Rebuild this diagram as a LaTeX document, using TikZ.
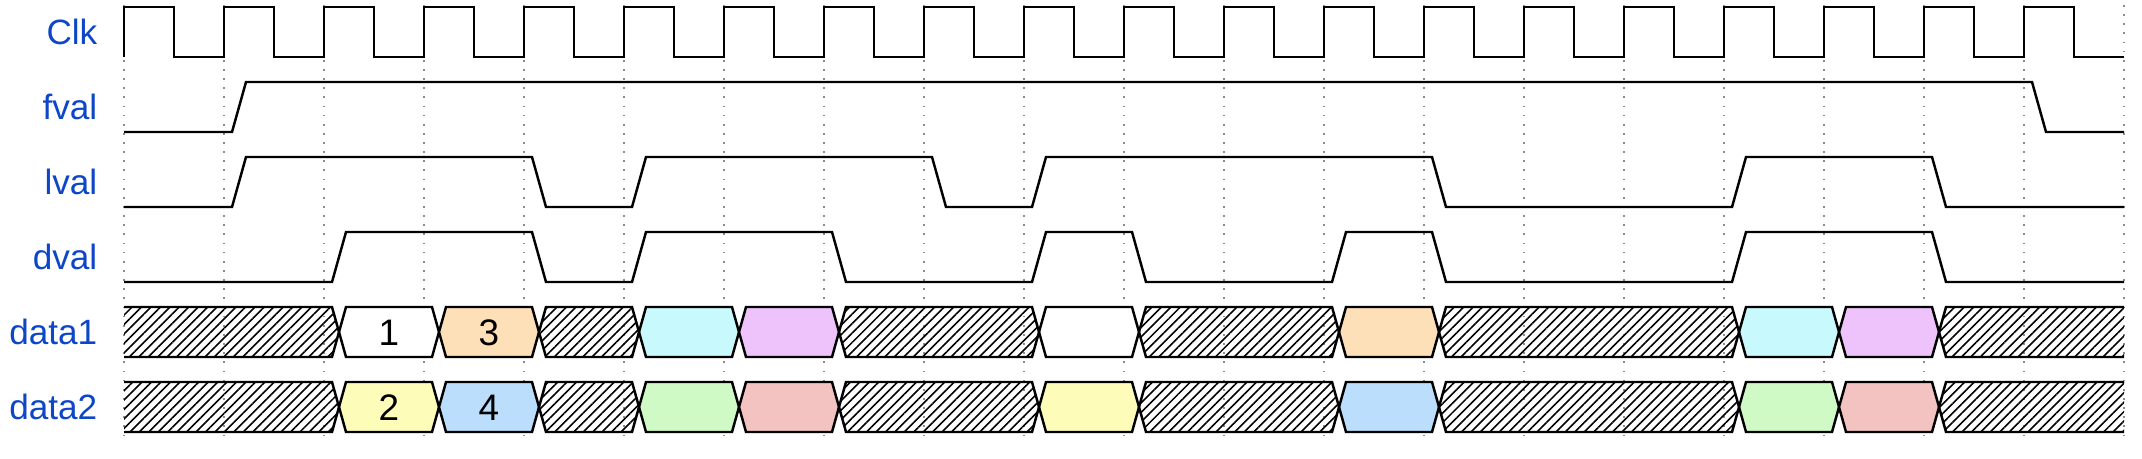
\documentclass[tikz,border=0pt]{standalone}
\usepackage{fontspec}
\setmainfont{Liberation Sans}
\usetikzlibrary{patterns.meta}

\definecolor{sigblue}{RGB}{14,70,200}
\definecolor{peach}{RGB}{253,223,184}
\definecolor{aqua}{RGB}{200,250,253}
\definecolor{lilac}{RGB}{238,194,250}
\definecolor{lemon}{RGB}{253,253,185}
\definecolor{sky}{RGB}{186,222,251}
\definecolor{mint}{RGB}{207,250,198}
\definecolor{rose}{RGB}{242,195,192}

% level signal: row top, clock edges where it toggles (starts low)
\newcommand\levelwave[2]{%
  \draw[sig] (1.24,{#1+0.5})
    foreach \k [count=\i, evaluate=\i as \ya using {mod(\i,2)==1 ? #1+0.5 : #1},
      evaluate=\i as \yb using {mod(\i,2)==1 ? #1 : #1+0.5}] in {#2}
      { -- ({1.32+\k},\ya) -- ({1.46+\k},\yb) }
    -- (21.24,{#1+0.5});}
% one bus value: row top, from edge, to edge, style
\newcommand\busseg[4]{%
  \draw[sig, #4] ({1.39+#2},{#1+0.25}) -- ({1.46+#2},#1) -- ({1.32+#3},#1)
    -- ({1.39+#3},{#1+0.25}) -- ({1.32+#3},{#1+0.5}) -- ({1.46+#2},{#1+0.5}) -- cycle;}
% open hatched ends of a bus row
\newcommand\busends[1]{%
  \fill[hatch] (1.24,#1) -- (3.32,#1) -- (3.39,{#1+0.25}) -- (3.32,{#1+0.5}) -- (1.24,{#1+0.5}) -- cycle;
  \draw[sig] (1.24,#1) -- (3.32,#1) -- (3.39,{#1+0.25}) -- (3.32,{#1+0.5}) -- (1.24,{#1+0.5});
  \fill[hatch] (21.24,#1) -- (19.46,#1) -- (19.39,{#1+0.25}) -- (19.46,{#1+0.5}) -- (21.24,{#1+0.5}) -- cycle;
  \draw[sig] (21.24,#1) -- (19.46,#1) -- (19.39,{#1+0.25}) -- (19.46,{#1+0.5}) -- (21.24,{#1+0.5});}

\begin{document}
\begin{tikzpicture}[
  x=1cm, y=-1cm,
  sig/.style={line width=0.7pt},
  grid/.style={black!45, line width=0.4pt, dash pattern=on 0.5pt off 2.1pt},
  lbl/.style={font=\fontsize{10}{12}\selectfont, text=sigblue, anchor=base east, inner sep=0pt},
  num/.style={font=\fontsize{10.5}{12}\selectfont, anchor=base, inner sep=0pt},
  hatch/.style={pattern={Lines[angle=45, distance=1.9pt, line width=0.45pt]}}
]
\useasboundingbox (0,0) rectangle (21.42,4.58);
% ---------------- grid and names ------------------------------------------
\foreach \k in {0,...,20}
  \draw[grid] ({1.24+\k},0.05) -- ({1.24+\k},4.38);
\foreach \n/\t [count=\r from 0] in {clk/Clk, fval/fval, lval/lval, dval/dval, dataA/data1, dataB/data2}
  \node[lbl] (\n) at (0.98,{0.445+0.75*\r}) {\t};
% ---------------- clock and strobes ---------------------------------------
\draw[sig] (1.24,0.57) foreach \k in {0,...,19}
  { -- ({1.24+\k},0.07) -- ({1.74+\k},0.07) -- ({1.74+\k},0.57) -- ({2.24+\k},0.57) };
\levelwave{0.82}{1,19}
\levelwave{1.57}{1,4,5,8,9,13,16,18}
\levelwave{2.32}{2,4,5,7,9,10,12,13,16,18}
% ---------------- data buses ----------------------------------------------
\foreach \a/\b/\c in {2/3/white, 3/4/peach, 5/6/aqua, 6/7/lilac, 9/10/white,
                      12/13/peach, 16/17/aqua, 17/18/lilac}
  \busseg{3.07}{\a}{\b}{fill=\c};
\foreach \a/\b/\c in {2/3/lemon, 3/4/sky, 5/6/mint, 6/7/rose, 9/10/lemon,
                      12/13/sky, 16/17/mint, 17/18/rose}
  \busseg{3.82}{\a}{\b}{fill=\c};
\foreach \y in {3.07,3.82}{
  \foreach \a/\b in {4/5, 7/9, 10/12, 13/16}
    \busseg{\y}{\a}{\b}{hatch};
  \busends{\y}
}
\node[num] (one) at (3.89,3.45) {1};
\node[num] (three) at (4.89,3.45) {3};
\node[num] (two) at (3.89,4.2) {2};
\node[num] (four) at (4.89,4.2) {4};
\end{tikzpicture}
\end{document}
